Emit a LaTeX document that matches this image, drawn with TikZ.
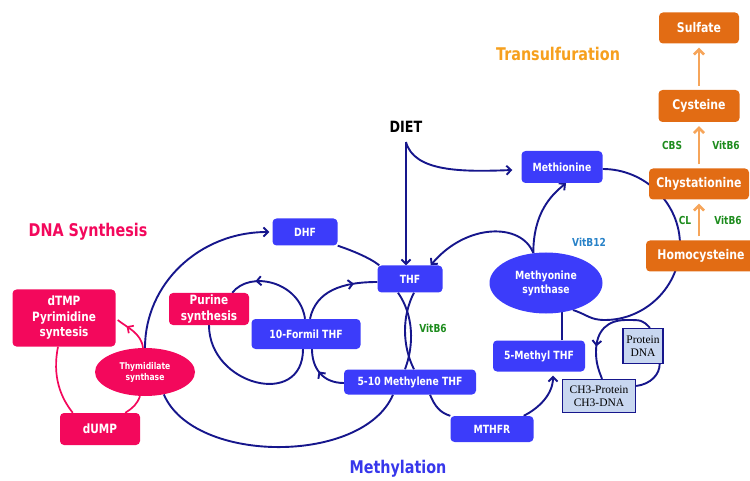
\documentclass[tikz,border=0pt]{standalone}
\usepackage{fontspec}
\usetikzlibrary{calc}
\usetikzlibrary{arrows.meta}
\usetikzlibrary{shapes.geometric}
\usetikzlibrary{backgrounds}
\usetikzlibrary{decorations.markings}

\newfontfamily\vfont{DejaVu Sans}[FakeStretch=0.82]
\newfontfamily\tfont{Liberation Serif}

\definecolor{boxblue}{RGB}{60,60,250}
\definecolor{linenavy}{RGB}{22,22,140}
\definecolor{boxpink}{RGB}{243,8,92}
\definecolor{boxorange}{RGB}{226,108,20}
\definecolor{arroworange}{RGB}{246,165,90}
\definecolor{textorange}{RGB}{246,160,30}
\definecolor{textblue}{RGB}{55,55,235}
\definecolor{vitgreen}{RGB}{30,140,30}
\definecolor{vitblue}{RGB}{40,130,200}
\definecolor{paleblue}{RGB}{200,215,240}

\tikzset{
  box/.style={rectangle, rounded corners=4pt, inner sep=0pt, text=white, align=center,
    font=\vfont\bfseries\fontsize{11.3}{13}\selectfont},
  bluebox/.style={box, fill=boxblue},
  pinkbox/.style={box, fill=boxpink, font=\vfont\bfseries\fontsize{12.8}{15.5}\selectfont},
  orangebox/.style={box, fill=boxorange, font=\vfont\bfseries\fontsize{13.3}{15}\selectfont},
  enzyme/.style={ellipse, inner sep=0pt, text=white, align=center},
  paperbox/.style={rectangle, draw=linenavy, line width=1.3pt, fill=paleblue, inner sep=0pt,
    align=center, font=\tfont\fontsize{11.5}{13}\selectfont},
  title/.style={font=\vfont\bfseries\fontsize{17.5}{19}\selectfont},
  vitlabel/.style={font=\vfont\bfseries\fontsize{11}{12}\selectfont, text=vitgreen},
  link/.style={draw=linenavy, line width=1.9pt},
  pinklink/.style={draw=boxpink, line width=1.7pt},
  sulfarrow/.style={draw=arroworange, line width=2.6pt, -{Straight Barb[length=5pt,width=10pt]},
    shorten <=4pt, shorten >=4pt},
  midarrow/.style={postaction={decorate}, decoration={markings,
    mark=at position #1 with {\arrow{Straight Barb[length=4.5pt,width=9pt]}}}},
}

\begin{document}
\begin{tikzpicture}[x=1pt, y=-1pt, >={Straight Barb[length=4.5pt,width=9pt]}]
\useasboundingbox (0,0) rectangle (750,481);

% headings
\node[title, text=boxpink] (dnatitle) at (88,232) {DNA Synthesis};
\node[title, text=textblue] (mettitle) at (398,469) {Methylation};
\node[title, text=textorange] (transtitle) at (558,54) {Transulfuration};
\node[title, font=\vfont\bfseries\fontsize{15.5}{17}\selectfont] (diet) at (406,127) {DIET};
\coordinate (dietfoot) at (406,142);

% DNA synthesis side
\node[pinkbox, minimum width=103pt, minimum height=57pt] (dtmp) at (64,318) {dTMP\\Pyrimidine\\syntesis};
\node[enzyme, fill=boxpink, minimum width=100pt, minimum height=48pt,
  font=\vfont\bfseries\fontsize{9.3}{11}\selectfont] (ts) at (145,372) {Thymidilate\\synthase};
\node[pinkbox, minimum width=80pt, minimum height=32pt] (dump) at (100,429) {dUMP};
\node[pinkbox, minimum width=80pt, minimum height=32pt] (purine) at (209,309) {Purine\\synthesis};

% folate cycle
\node[bluebox, minimum width=65pt, minimum height=27pt] (dhf) at (305,232) {DHF};
\node[bluebox, minimum width=65pt, minimum height=27pt] (thf) at (410,279) {THF};
\node[bluebox, minimum width=109pt, minimum height=30pt] (formil) at (306,334) {10-Formil THF};
\node[bluebox, minimum width=132pt, minimum height=25pt] (methylene) at (410,382) {5-10 Methylene THF};
\node[bluebox, minimum width=83pt, minimum height=26pt] (mthfr) at (492,429) {MTHFR};
\node[bluebox, minimum width=92pt, minimum height=31pt] (methyl) at (539,356) {5-Methyl THF};
\node[bluebox, minimum width=81pt, minimum height=32pt] (methionine) at (562,167) {Methionine};
\node[enzyme, fill=boxblue, minimum width=113pt, minimum height=61pt,
  font=\vfont\bfseries\fontsize{11.3}{14}\selectfont] (ms) at (546,283) {Methyonine\\synthase};

% transulfuration
\node[orangebox, minimum width=80pt, minimum height=31pt] (sulf) at (699,28) {Sulfate};
\node[orangebox, minimum width=81pt, minimum height=32pt] (cys) at (699,106) {Cysteine};
\node[orangebox, minimum width=100pt, minimum height=31pt] (chys) at (699,184) {Chystationine};
\node[orangebox, minimum width=110pt, minimum height=31pt] (homo) at (701,256) {Homocysteine};

% methylation targets
\node[paperbox, minimum width=40pt, minimum height=35pt] (prot) at (643,346) {Protein\\DNA};
\node[paperbox, minimum width=73pt, minimum height=33pt] (ch3) at (599,396) {CH3-Protein\\CH3-DNA};

% vitamins
\node[vitlabel] (vbsix) at (433,328) {VitB6};
\node[vitlabel, text=vitblue] (vbtwelve) at (589,242) {VitB12};
\node[vitlabel] (cl) at (685,220) {CL};
\node[vitlabel] (vbsixcl) at (728,220) {VitB6};
\node[vitlabel] (cbs) at (672,145) {CBS};
\node[vitlabel] (vbsixcbs) at (726,145) {VitB6};

\coordinate (mstop) at (ms.113);
\coordinate (rcright) at (680,245);
\coordinate (rcbottom) at (605,320);
\coordinate (smalltop) at (626,320);
\coordinate (smallleft) at (596,352);

\begin{scope}[on background layer]
% big loops round the folate boxes
\draw[link,->] (ts.north) .. controls +(0,-64) and +(-70,0) .. ($(dhf.west)+(-3,0)$);
\draw[link] (ts.-50) .. controls +(30,70) and +(-30,70) .. ($(methylene.south)+(-17,0)$);
\draw[link] (dhf.south east) .. controls +(12,4) and +(-10,-8) .. ($(thf.north west)+(2,0)$);
\draw[link] ($(thf.south)+(-12,0)$) .. controls +(16,23) and +(9,-24) .. ($(methylene.north)+(-5,0)$);
\draw[link] ($(thf.south)+(4,0)$) .. controls +(-12,23) and +(-12,-24) .. ($(methylene.north)+(4,0)$);

% small loops by 10-Formil THF
\draw[link, midarrow=0.72] ($(formil.north)+(4,0)$) .. controls +(6,-28) and +(-35,0) .. ($(thf.west)+(0,3)$);
\draw[link, midarrow=0.55] ($(methylene.west)+(0,1)$) .. controls +(-22,0) and +(0,18) .. ($(formil.south)+(6,0)$);
\draw[link, midarrow=0.72] ($(formil.north)+(-1,0)$) .. controls +(-5,-37) and +(18,-23) .. ($(purine.north east)+(-17,0)$);
\draw[link] (purine.south) .. controls +(0,60) and +(0,60) .. ($(formil.south)+(-3,0)$);

% methyl cycle
\draw[link] ($(methylene.south)+(20,0)$) .. controls +(5,12) and +(-10,-3) .. (mthfr.north west);
\draw[link,->] ($(mthfr.north east)+(-10,0)$) .. controls +(16,-8) and +(0,18) .. ($(methyl.south)+(14,4)$);
\draw[link] ($(methyl.north east)+(-23,0)$) -- ++(0,-40);
\draw[link,->] (mstop) .. controls +(-12,-31) and +(35,-42) .. ($(thf.north east)+(-12,0)$);
\draw[link,->] (mstop) .. controls +(0,-40) and +(-15,12) .. ($(methionine.south)+(4,0)$);
\draw[link,->] (dietfoot) -- (dietfoot |- thf.north);
\draw[link,->] (dietfoot) .. controls +(8,30) and +(-50,2) .. ($(methionine.west)+(-9,3)$);
\draw[link] ($(methionine.east)+(0,2)$) .. controls +(42,0) and +(0,-42) .. (rcright)
  .. controls +(0,42) and +(40,0) .. (rcbottom) .. controls +(-15,0) and +(15,5) .. (ms.-45);

% protein / DNA methylation
\draw[link, midarrow=0.68] ($(prot.north)+(7,0)$) .. controls +(-8,-8) and +(16,0) .. (smalltop)
  .. controls +(-18,0) and +(0,-22) .. (smallleft) .. controls +(0,12) and +(-3,-8) .. ($(ch3.north)+(3,0)$);
\draw[link] ($(ch3.east)+(0,-10)$) .. controls +(15,-2) and +(0,10) .. ($(prot.south east)+(-4,0)$);

% dTMP / dUMP
\draw[pinklink, midarrow=0.72] ($(ts.north)+(-2,0)$) .. controls +(-2,-15) and +(10,8) .. ($(dtmp.east)+(2,2)$);
\draw[pinklink] ($(dtmp.south)+(-6,0)$) .. controls +(-6,30) and +(-12,-15) .. ($(dump.north west)+(13,0)$);
\draw[pinklink] ($(dump.north east)+(-15,0)$) .. controls +(8,-5) and +(-3,8) .. ($(ts.south)+(-5,0)$);
\end{scope}

% transulfuration arrows
\draw[sulfarrow] (homo.north -| chys.south) -- (chys.south);
\draw[sulfarrow] (chys.north) -- (cys.south);
\draw[sulfarrow] (cys.north) -- (sulf.south);
\end{tikzpicture}
\end{document}
